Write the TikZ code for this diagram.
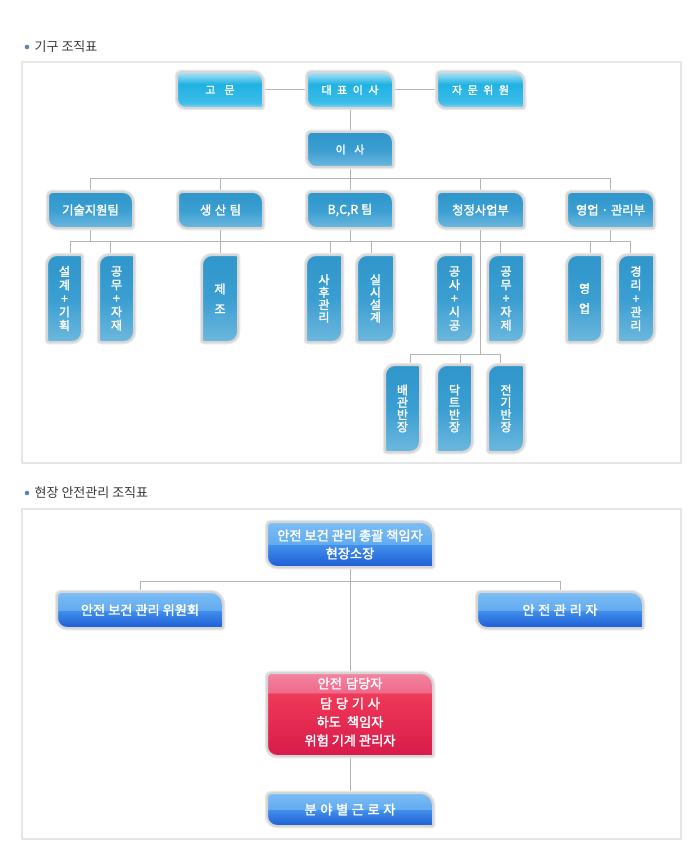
\documentclass[tikz,border=0pt]{standalone}
\usepackage{fontspec}
\setmainfont{Noto Sans CJK KR}[AutoFakeBold=2.2]
\usetikzlibrary{calc}
\pgfdeclarelayer{bg}
\pgfsetlayers{bg,main}

\definecolor{cyT}{HTML}{B0E3F5}
\definecolor{cyM}{HTML}{20B2E3}
\definecolor{cyL}{HTML}{3CBCE8}
\definecolor{cyB}{HTML}{7ED2EF}
\definecolor{sbT}{HTML}{2F96CB}
\definecolor{sbM}{HTML}{3A9ED1}
\definecolor{sbB}{HTML}{6DB8DE}
\definecolor{gbT1}{HTML}{7CBDF5}
\definecolor{gbT2}{HTML}{62ABF0}
\definecolor{gbB1}{HTML}{4290EC}
\definecolor{gbB2}{HTML}{1E5DD5}
\definecolor{pkT1}{HTML}{F385A1}
\definecolor{pkT2}{HTML}{EE6A8C}
\definecolor{pkB1}{HTML}{EF3A58}
\definecolor{pkB2}{HTML}{D81A4A}
\definecolor{boxborder}{HTML}{D6D6D6}
\definecolor{framec}{HTML}{E6E6E6}
\definecolor{connc}{HTML}{B3B3B3}
\definecolor{bulletc}{HTML}{5B87B5}
\definecolor{titlec}{HTML}{383838}

\pgfdeclareverticalshading{cyanbox}{100bp}{color(0bp)=(cyB); color(25bp)=(cyB); color(33bp)=(cyL); color(58bp)=(cyM); color(75bp)=(cyT); color(100bp)=(cyT)}
\pgfdeclareverticalshading{steelbox}{100bp}{color(0bp)=(sbB); color(25bp)=(sbB); color(50bp)=(sbM); color(75bp)=(sbT); color(100bp)=(sbT)}
\pgfdeclareverticalshading{glossbox}{100bp}{color(0bp)=(gbB2); color(25bp)=(gbB2); color(49.9bp)=(gbB1); color(50bp)=(gbT2); color(75bp)=(gbT1); color(100bp)=(gbT1)}
\pgfdeclareverticalshading{pinkbox}{100bp}{color(0bp)=(pkB2); color(25bp)=(pkB2); color(62.9bp)=(pkB1); color(63bp)=(pkT2); color(75bp)=(pkT1); color(100bp)=(pkT1)}

% #1 style, #2 x1, #3 y1, #4 x2, #5 y2, radii #6 NW, #7 NE, #8 SE, #9 SW
\newcommand\drawleaf[9]{%
  \shadedraw[boxbase,#1] (#2,#3+#6) .. controls (#2,#3+0.448*#6) and (#2+0.448*#6,#3) .. (#2+#6,#3)
   -- (#4-#7,#3) .. controls (#4-0.448*#7,#3) and (#4,#3+0.448*#7) .. (#4,#3+#7)
   -- (#4,#5-#8) .. controls (#4,#5-0.448*#8) and (#4-0.448*#8,#5) .. (#4-#8,#5)
   -- (#2+#9,#5) .. controls (#2+0.448*#9,#5) and (#2,#5-0.448*#9) .. (#2,#5-#9) -- cycle;}
\newcommand\gp[1]{\hspace{#1pt}}

\tikzset{
  boxbase/.style={draw=boxborder, line width=2pt, preaction={draw=black!9, line width=4.5pt}},
  lbl/.style={inner sep=0pt, text=white, font=\bfseries\fontsize{12.3}{14}\selectfont},
  toplbl/.style={lbl, minimum width=86pt, minimum height=36pt, font=\bfseries\fontsize{11}{12}\selectfont},
  midlbl/.style={lbl, minimum width=86pt, minimum height=36pt},
  vlbl/.style={lbl, minimum width=36pt, minimum height=87pt, align=center},
  slbl/.style={lbl, minimum width=166pt, minimum height=36pt, font=\bfseries\fontsize{13.2}{18}\selectfont, align=center},
  conn/.style={draw=connc, line width=1pt},
  frame/.style={draw=framec, line width=2pt, fill=white},
  ttl/.style={inner sep=0pt, text=titlec, font=\fontsize{13}{15}\selectfont, anchor=west}
}

\begin{document}
\begin{tikzpicture}[x=1pt,y=-1pt]
\useasboundingbox (0,0) rectangle (700,850);

% ---------- titles ----------
\fill[bulletc] (27,47) circle (2.3pt);
\node[ttl] (title1) at (34.5,46.5) {기구 조직표};
\fill[bulletc] (27,493) circle (2.3pt);
\node[ttl] (title2) at (34.5,492.5) {현장 안전관리 조직표};

% ---------- box shapes, section 1 ----------
\drawleaf{shading=cyanbox}{177}{72}{263}{108}{4}{10}{2}{9}
\drawleaf{shading=cyanbox}{307}{72}{393}{108}{4}{10}{2}{9}
\drawleaf{shading=cyanbox}{437}{72}{524}{108}{4}{10}{2}{9}
\drawleaf{shading=steelbox}{307}{132}{393}{167}{4}{10}{2}{9}
\drawleaf{shading=steelbox}{48}{192}{133}{228}{4}{10}{2}{9}
\drawleaf{shading=steelbox}{178}{192}{263}{228}{4}{10}{2}{9}
\drawleaf{shading=steelbox}{307}{192}{393}{228}{4}{10}{2}{9}
\drawleaf{shading=steelbox}{437}{192}{524}{228}{4}{10}{2}{9}
\drawleaf{shading=steelbox}{567}{192}{654}{228}{4}{10}{2}{9}
% vertical boxes
\drawleaf{shading=steelbox}{47}{255}{82}{342}{10}{2}{10}{2}
\drawleaf{shading=steelbox}{99}{255}{134}{342}{10}{2}{10}{2}
\drawleaf{shading=steelbox}{202}{255}{238}{342}{10}{2}{10}{2}
\drawleaf{shading=steelbox}{306}{255}{342}{342}{10}{2}{10}{2}
\drawleaf{shading=steelbox}{357}{255}{394}{342}{10}{2}{10}{2}
\drawleaf{shading=steelbox}{436}{255}{473}{342}{10}{2}{10}{2}
\drawleaf{shading=steelbox}{488}{255}{524}{342}{10}{2}{10}{2}
\drawleaf{shading=steelbox}{567}{255}{602}{342}{10}{2}{10}{2}
\drawleaf{shading=steelbox}{618}{255}{654}{342}{10}{2}{10}{2}
\drawleaf{shading=steelbox}{385}{365}{420}{452}{10}{2}{10}{2}
\drawleaf{shading=steelbox}{437}{365}{472}{452}{10}{2}{10}{2}
\drawleaf{shading=steelbox}{488}{365}{524}{452}{10}{2}{10}{2}

% ---------- box shapes, section 2 ----------
\drawleaf{shading=glossbox}{267}{522}{433}{567}{4}{12}{1}{10}
\drawleaf{shading=glossbox}{57}{592}{223}{628}{4}{12}{1}{10}
\drawleaf{shading=glossbox}{477}{592}{643}{628}{4}{12}{1}{10}
\drawleaf{shading=pinkbox}{267}{673}{433}{756}{4}{12}{1}{10}
\drawleaf{shading=glossbox}{267}{793}{433}{826}{4}{12}{1}{10}

% ---------- nodes, section 1 ----------
\node[toplbl] (gomun) at (220,90) {고\gp{9}문};
\node[toplbl] (ceo) at (350,90) {대\gp{5.5}표\gp{5.5}이\gp{5.5}사};
\node[toplbl] (jamun) at (480.5,90) {자\gp{5.5}문\gp{5.5}위\gp{5.5}원};
\node[toplbl, minimum height=35pt] (isa) at (350,149.5) {이\gp{8.5}사};
\node[midlbl] (gisul) at (90.5,210) {기술지원팀};
\node[midlbl] (saengsan) at (220.5,210) {생\gp{3.5}산\gp{3.5}팀};
\node[midlbl] (bcr) at (350,210) {B,C,R 팀};
\node[midlbl] (cheong) at (480.5,210) {청정사업부};
\node[midlbl] (yeongup) at (610.5,210) {영업 · 관리부};

\node[vlbl, minimum width=35pt, font=\bfseries\fontsize{12}{13.5}\selectfont] (v1) at (64.5,298.5) {설\\계\\+\\기\\획};
\node[vlbl, minimum width=35pt, font=\bfseries\fontsize{12}{13.5}\selectfont] (v2) at (116.5,298.5) {공\\무\\+\\자\\재};
\node[vlbl, font=\bfseries\fontsize{12}{20}\selectfont] (v3) at (220,298.5) {제\\조};
\node[vlbl, font=\bfseries\fontsize{12}{12.5}\selectfont] (v4) at (324,298.5) {사\\후\\관\\리};
\node[vlbl, minimum width=37pt, font=\bfseries\fontsize{12}{12.5}\selectfont] (v5) at (375.5,298.5) {실\\시\\설\\계};
\node[vlbl, minimum width=37pt, font=\bfseries\fontsize{12}{13.5}\selectfont] (v6) at (454.5,298.5) {공\\사\\+\\시\\공};
\node[vlbl, font=\bfseries\fontsize{12}{13.5}\selectfont] (v7) at (506,298.5) {공\\무\\+\\자\\제};
\node[vlbl, minimum width=35pt, font=\bfseries\fontsize{12}{20}\selectfont] (v8) at (584.5,298.5) {영\\업};
\node[vlbl, font=\bfseries\fontsize{12}{13.5}\selectfont] (v9) at (636,298.5) {경\\리\\+\\관\\리};
\node[vlbl, minimum width=35pt, font=\bfseries\fontsize{12}{12.3}\selectfont] (b1) at (402.5,408.5) {배\\관\\반\\장};
\node[vlbl, minimum width=35pt, font=\bfseries\fontsize{12}{12.3}\selectfont] (b2) at (454.5,408.5) {닥\\트\\반\\장};
\node[vlbl, font=\bfseries\fontsize{12}{12.3}\selectfont] (b3) at (506,408.5) {전\\기\\반\\장};

% ---------- nodes, section 2 ----------
\node[slbl, minimum height=45pt] (chong) at (350,544.5) {안전 보건 관리 총괄 책임자\\현장소장};
\node[slbl] (wiwon) at (140,610) {안전 보건 관리 위원회};
\node[slbl] (anjeon) at (560,610) {안\gp{3.6}전\gp{3.6}관\gp{3.6}리\gp{3.6}자};
\node[slbl, minimum height=83pt] (damdang) at (350,714.5) {};
\node[lbl, align=center, font=\bfseries\fontsize{13.2}{18.5}\selectfont] (damdangtxt) at (350,712) {안전\gp{4}담당자\\[1.5pt]담\gp{3.8}당\gp{3.8}기\gp{3.8}사\\하도\gp{6}책임자\\위험 기계 관리자};
\node[slbl, minimum height=33pt] (geunro) at (350,809.5) {분\gp{3.6}야\gp{3.6}별\gp{3.6}근\gp{3.6}로\gp{3.6}자};

% ---------- background, frames and connectors ----------
\begin{pgfonlayer}{bg}
\fill[white] (0,0) rectangle (700,850);
\draw[frame] (22,62) rectangle (681,463);
\draw[frame] (22,509) rectangle (681,839);

\draw[conn] (gomun) -- (ceo);
\draw[conn] (ceo) -- (jamun);
\draw[conn] (ceo) -- (isa);
\coordinate (bus1) at (350,179);
\draw[conn] (isa.south) -- (bus1);
\draw[conn] (gisul.north) -- (gisul.north |- bus1) -- (yeongup.north |- bus1) -- (yeongup.north);
\foreach \n in {saengsan,bcr,cheong} \draw[conn] (\n.north) -- (\n.north |- bus1);

\coordinate (bus2L) at (70,241);
\coordinate (bus2R) at (630,241);
\draw[conn] (bus2L) -- (bus2R);
\draw[conn] (gisul.south) -- (gisul.south |- bus2L);
\draw[conn] (saengsan.south) -- (saengsan.south |- v3.north);
\draw[conn] (bcr.south) -- (bcr.south |- bus2L);
\draw[conn] (yeongup.south) -- (yeongup.south |- bus2L);
\foreach \x/\n in {70/v1,110/v2,330/v4,371/v5,460/v6,500/v7,590/v8,630/v9}{
  \coordinate (drop) at (\x,241);
  \draw[conn] (drop) -- (drop |- \n.north);
}
\coordinate (bus3) at (480,354);
\draw[conn] (cheong.south) -- (cheong.south |- bus3);
\coordinate (bus3L) at (410,354);
\coordinate (bus3R) at (500,354);
\draw[conn] (bus3L) -- (bus3R);
\foreach \x/\n in {410/b1,460/b2,500/b3}{
  \coordinate (drop) at (\x,354);
  \draw[conn] (drop) -- (drop |- \n.north);
}

\coordinate (bus4) at (350,581);
\draw[conn] (chong.south) -- (damdang.north);
\draw[conn] (wiwon.north) -- (wiwon.north |- bus4) -- (anjeon.north |- bus4) -- (anjeon.north);
\draw[conn] (damdang.south) -- (geunro.north);
\end{pgfonlayer}
\end{tikzpicture}
\end{document}
